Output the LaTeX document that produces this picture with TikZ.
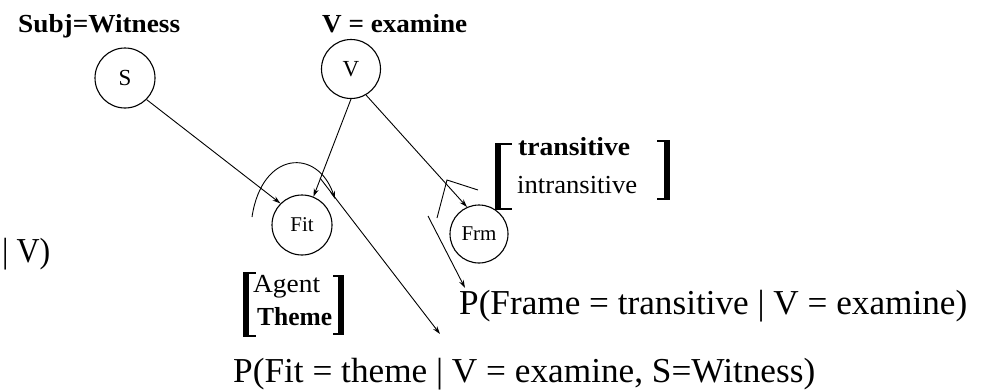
\documentclass[tikz,border=0pt]{standalone}
\usepackage{fontspec}
\setmainfont{Liberation Serif}
\usepackage{graphicx}
\usetikzlibrary{arrows.meta}
\newcommand{\fw}[2]{\resizebox{#1pt}{\height}{#2}}
\begin{document}
\begin{tikzpicture}[x=1pt,y=-1pt,
  var/.style={circle,draw,line width=1.1pt,minimum size=60pt,inner sep=0pt,font=\fontsize{21}{24}\selectfont},
  lbl/.style={anchor=base west,inner sep=0pt},
  big/.style={lbl,font=\fontsize{35}{40}\selectfont},
  mid/.style={lbl,font=\fontsize{26}{30}\selectfont},
  midb/.style={lbl,font=\fontsize{26}{30}\selectfont\bfseries},
  edge/.style={line width=0.9pt},
  fillarr/.style={edge,-{Stealth[length=8pt,width=5pt]}},
  openarr/.style={edge,-{Stealth[open,length=8pt,width=5pt]}},
  brk/.style={line width=6pt},
  stub/.style={line width=1.5pt}]
\useasboundingbox (0,0) rectangle (988,389);

% titles
\node[midb] (subj) at (18,32) {\fw{162}{Subj=Witness}};
\node[midb] (vex) at (322,32) {\fw{145}{V = examine}};

% variables
\node[var,font=\fontsize{23}{26}\selectfont] (S) at (125,78) {S};
\node[var,minimum size=59pt,font=\fontsize{23}{26}\selectfont] (V) at (351,69) {V};
\node[var] (Fit) at (302,225) {Fit};
\node[var,minimum size=58pt] (Frm) at (479,234) {Frm};

% value lists
\node[midb] (trans) at (518,155) {\fw{112}{transitive}};
\node[mid] (intrans) at (517,193) {\fw{120}{intransitive}};
\draw[brk] (498,143) -- (498,210);
\draw[stub] (498,144) -- (512,144) (498,209) -- (512,209);
\draw[brk] (667,140) -- (667,200);
\draw[stub] (667,141) -- (657,141) (667,199) -- (657,199);

\node[mid] (agent) at (253,292) {\fw{67}{Agent}};
\node[midb] (theme) at (257,325) {\fw{75}{Theme}};
\draw[brk] (246,272) -- (246,337);
\draw[stub] (246,273) -- (256,273) (246,336) -- (256,336);
\draw[brk] (341,275) -- (341,335);
\draw[stub] (341,276) -- (333,276) (341,334) -- (333,334);

% probability texts
\node[big] (bar) at (2,262) {\fw{48}{| V)}};
\node[big] (pframe) at (459,314) {\fw{508}{P(Frame = transitive | V = examine)}};
\node[big] (pfit) at (233,382) {\fw{582}{P(Fit = theme | V = examine, S=Witness)}};

% free ends
\coordinate (arcL) at (252,217);
\coordinate (arcR) at (335,199);
\coordinate (fitTail) at (320,178);
\coordinate (fitHead) at (440,334);
\coordinate (frmA) at (447,180);
\coordinate (frmB) at (478,190);
\coordinate (frmC) at (437,218);
\coordinate (frmTail) at (428,216);
\coordinate (frmHead) at (465,288);

% connectors
\draw[openarr] (S.-45) -- (Fit.135);
\draw[fillarr] (V.south) -- (Fit.68);
\draw[fillarr] (V.-60) -- (Frm.114);
\draw[openarr] (arcL) .. controls (262,150) and (318,148) .. (arcR);
\draw[fillarr] (fitTail) -- (fitHead);
\draw[edge] (frmB) -- (frmA) -- (frmC);
\draw[fillarr] (frmTail) -- (frmHead);
\end{tikzpicture}
\end{document}
